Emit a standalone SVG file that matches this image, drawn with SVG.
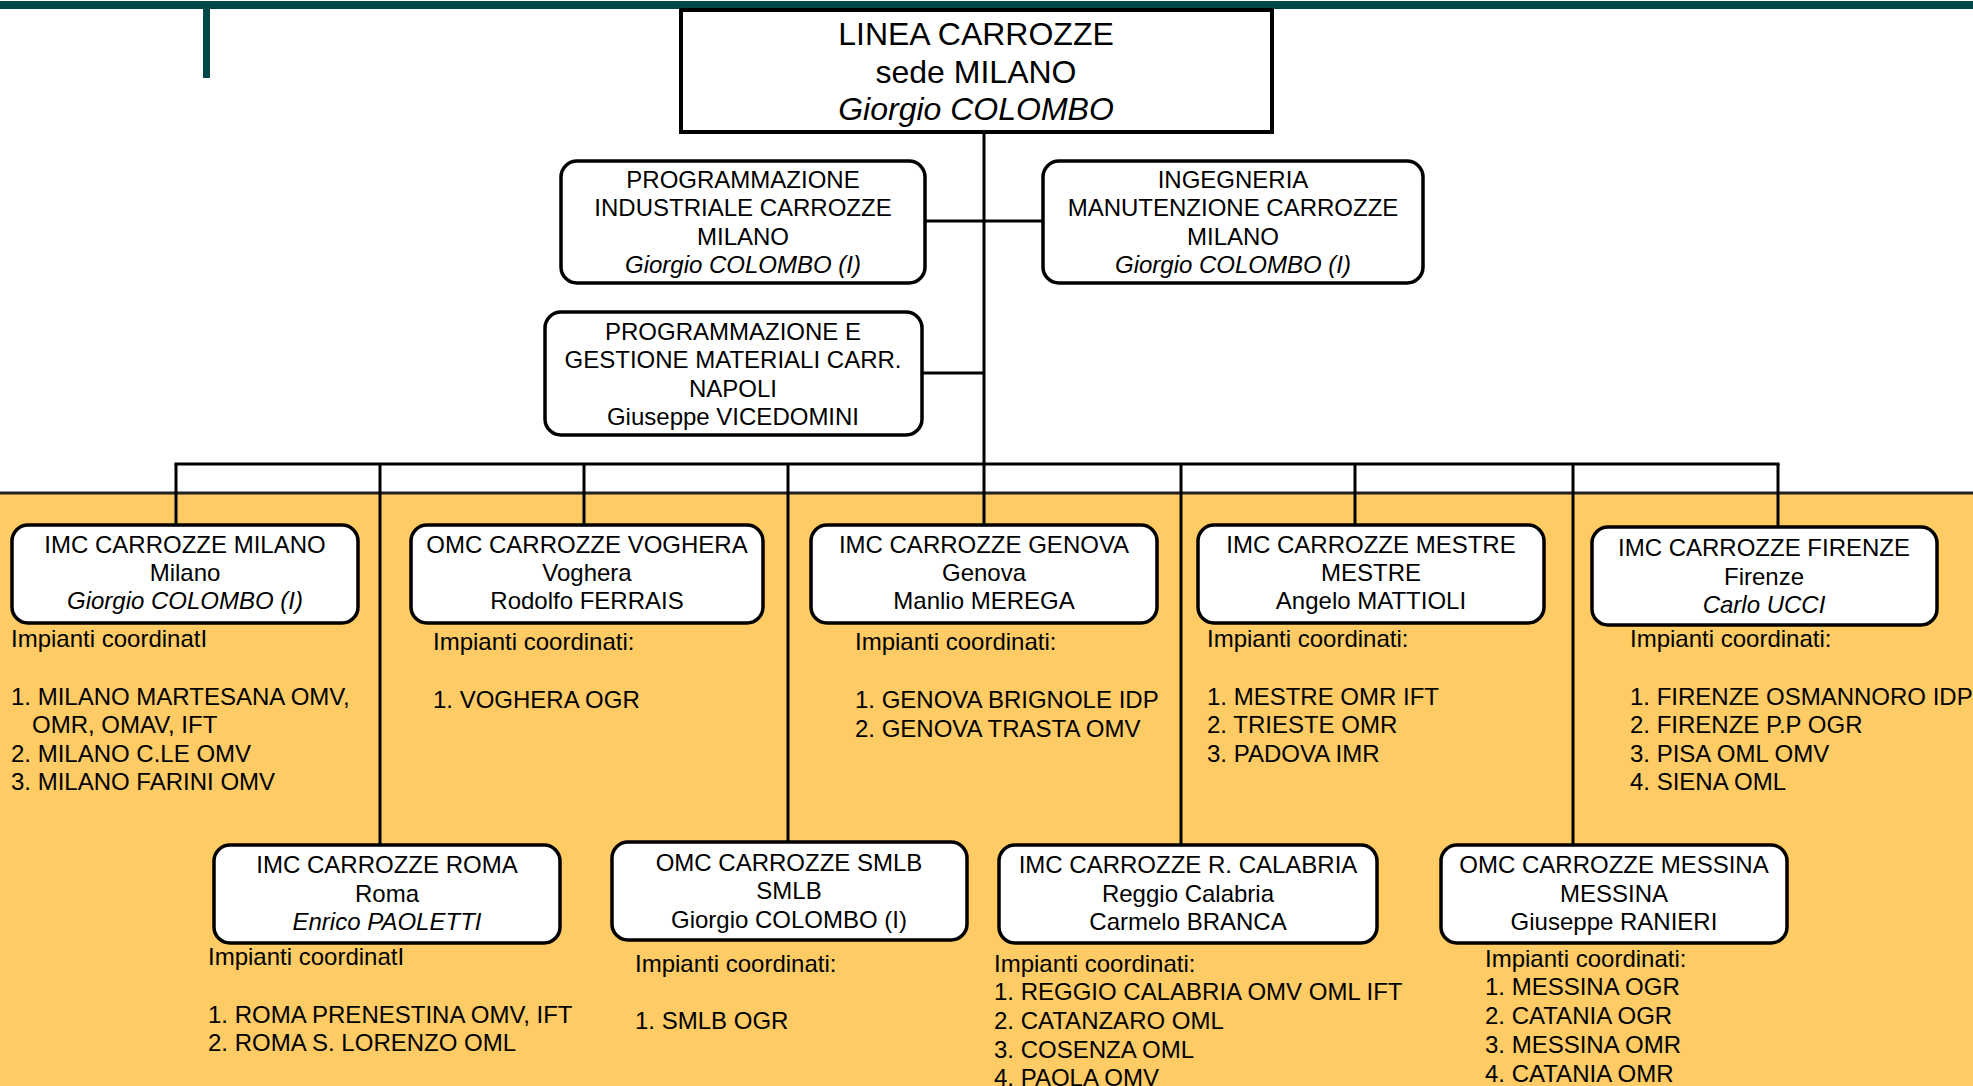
<svg xmlns="http://www.w3.org/2000/svg" width="1973" height="1086" viewBox="0 0 1973 1086">
<style>
text{font-family:"Liberation Sans",Arial,sans-serif;fill:#000}
.t{font-size:24px;text-anchor:middle}
.m{font-size:32px;text-anchor:middle}
.l{font-size:24px}
.i{font-style:italic}
.box{fill:#fff;stroke:#000;stroke-width:3.5}
.conn line{stroke:#000;stroke-width:3}
</style>
<rect x="0" y="0" width="1973" height="1086" fill="#fff"/>
<rect x="0" y="493" width="1973" height="593" fill="#FECB65"/>
<line x1="0" y1="493" x2="1973" y2="493" stroke="#222" stroke-width="3"/>
<rect x="0" y="1" width="1973" height="8" fill="#004848"/>
<rect x="203" y="8" width="7" height="70" fill="#004848"/>

<g id="connectors" class="conn">
<line x1="984" y1="132" x2="984" y2="525"/>
<line x1="925" y1="221" x2="1043" y2="221"/>
<line x1="922" y1="373" x2="984" y2="373"/>
<line x1="174.5" y1="464" x2="1779.5" y2="464"/>
<line x1="176" y1="464" x2="176" y2="525"/>
<line x1="380" y1="464" x2="380" y2="845"/>
<line x1="584" y1="464" x2="584" y2="525"/>
<line x1="788" y1="464" x2="788" y2="842"/>
<line x1="1181" y1="464" x2="1181" y2="845"/>
<line x1="1355" y1="464" x2="1355" y2="525"/>
<line x1="1573" y1="464" x2="1573" y2="845"/>
<line x1="1778" y1="464" x2="1778" y2="527"/>
</g>

<g id="linea-carrozze">
<rect x="681" y="10" width="591" height="122" fill="#fff" stroke="#000" stroke-width="4"/>
<text class="m" x="976" y="45">LINEA CARROZZE</text>
<text class="m" x="976" y="83">sede MILANO</text>
<text class="m i" x="976" y="120">Giorgio COLOMBO</text>
</g>

<g id="programmazione-industriale">
<rect class="box" x="561" y="161" width="364" height="122" rx="16"/>
<text class="t" x="743" y="188">PROGRAMMAZIONE</text>
<text class="t" x="743" y="216">INDUSTRIALE CARROZZE</text>
<text class="t" x="743" y="245">MILANO</text>
<text class="t i" x="743" y="273">Giorgio COLOMBO (I)</text>
</g>

<g id="ingegneria">
<rect class="box" x="1043" y="161" width="380" height="122" rx="16"/>
<text class="t" x="1233" y="188">INGEGNERIA</text>
<text class="t" x="1233" y="216">MANUTENZIONE CARROZZE</text>
<text class="t" x="1233" y="245">MILANO</text>
<text class="t i" x="1233" y="273">Giorgio COLOMBO (I)</text>
</g>

<g id="programmazione-gestione">
<rect class="box" x="545" y="312" width="377" height="123" rx="16"/>
<text class="t" x="733" y="340">PROGRAMMAZIONE E</text>
<text class="t" x="733" y="368">GESTIONE MATERIALI CARR.</text>
<text class="t" x="733" y="397">NAPOLI</text>
<text class="t" x="733" y="425">Giuseppe VICEDOMINI</text>
</g>

<g id="imc-milano">
<rect class="box" x="12" y="525" width="346" height="98" rx="16"/>
<text class="t" x="185" y="553">IMC CARROZZE MILANO</text>
<text class="t" x="185" y="581">Milano</text>
<text class="t i" x="185" y="609">Giorgio COLOMBO (I)</text>
<text class="l" x="11" y="647">Impianti coordinatI</text>
<text class="l" x="11" y="705">1. MILANO MARTESANA OMV,</text>
<text class="l" x="32" y="733">OMR, OMAV, IFT</text>
<text class="l" x="11" y="762">2. MILANO C.LE OMV</text>
<text class="l" x="11" y="790">3. MILANO FARINI OMV</text>
</g>

<g id="omc-voghera">
<rect class="box" x="411" y="525" width="352" height="98" rx="16"/>
<text class="t" x="587" y="553">OMC CARROZZE VOGHERA</text>
<text class="t" x="587" y="581">Voghera</text>
<text class="t" x="587" y="609">Rodolfo FERRAIS</text>
<text class="l" x="433" y="650">Impianti coordinati:</text>
<text class="l" x="433" y="708">1. VOGHERA OGR</text>
</g>

<g id="imc-genova">
<rect class="box" x="811" y="525" width="346" height="98" rx="16"/>
<text class="t" x="984" y="553">IMC CARROZZE GENOVA</text>
<text class="t" x="984" y="581">Genova</text>
<text class="t" x="984" y="609">Manlio MEREGA</text>
<text class="l" x="855" y="650">Impianti coordinati:</text>
<text class="l" x="855" y="708">1. GENOVA BRIGNOLE IDP</text>
<text class="l" x="855" y="737">2. GENOVA TRASTA OMV</text>
</g>

<g id="imc-mestre">
<rect class="box" x="1198" y="525" width="346" height="98" rx="16"/>
<text class="t" x="1371" y="553">IMC CARROZZE MESTRE</text>
<text class="t" x="1371" y="581">MESTRE</text>
<text class="t" x="1371" y="609">Angelo MATTIOLI</text>
<text class="l" x="1207" y="647">Impianti coordinati:</text>
<text class="l" x="1207" y="705">1. MESTRE OMR IFT</text>
<text class="l" x="1207" y="733">2. TRIESTE OMR</text>
<text class="l" x="1207" y="762">3. PADOVA IMR</text>
</g>

<g id="imc-firenze">
<rect class="box" x="1592" y="527" width="345" height="98" rx="16"/>
<text class="t" x="1764" y="556">IMC CARROZZE FIRENZE</text>
<text class="t" x="1764" y="585">Firenze</text>
<text class="t i" x="1764" y="613">Carlo UCCI</text>
<text class="l" x="1630" y="647">Impianti coordinati:</text>
<text class="l" x="1630" y="705">1. FIRENZE OSMANNORO IDP</text>
<text class="l" x="1630" y="733">2. FIRENZE P.P OGR</text>
<text class="l" x="1630" y="762">3. PISA OML OMV</text>
<text class="l" x="1630" y="790">4. SIENA OML</text>
</g>

<g id="imc-roma">
<rect class="box" x="214" y="845" width="346" height="98" rx="16"/>
<text class="t" x="387" y="873">IMC CARROZZE ROMA</text>
<text class="t" x="387" y="902">Roma</text>
<text class="t i" x="387" y="930">Enrico PAOLETTI</text>
<text class="l" x="208" y="965">Impianti coordinatI</text>
<text class="l" x="208" y="1023">1. ROMA PRENESTINA OMV, IFT</text>
<text class="l" x="208" y="1051">2. ROMA S. LORENZO OML</text>
</g>

<g id="omc-smlb">
<rect class="box" x="612" y="842" width="355" height="98" rx="16"/>
<text class="t" x="789" y="871">OMC CARROZZE SMLB</text>
<text class="t" x="789" y="899">SMLB</text>
<text class="t" x="789" y="928">Giorgio COLOMBO (I)</text>
<text class="l" x="635" y="972">Impianti coordinati:</text>
<text class="l" x="635" y="1029">1. SMLB OGR</text>
</g>

<g id="imc-rcalabria">
<rect class="box" x="999" y="845" width="378" height="98" rx="16"/>
<text class="t" x="1188" y="873">IMC CARROZZE R. CALABRIA</text>
<text class="t" x="1188" y="902">Reggio Calabria</text>
<text class="t" x="1188" y="930">Carmelo BRANCA</text>
<text class="l" x="994" y="972">Impianti coordinati:</text>
<text class="l" x="994" y="1000">1. REGGIO CALABRIA OMV OML IFT</text>
<text class="l" x="994" y="1029">2. CATANZARO OML</text>
<text class="l" x="994" y="1058">3. COSENZA OML</text>
<text class="l" x="994" y="1086">4. PAOLA OMV</text>
</g>

<g id="omc-messina">
<rect class="box" x="1441" y="845" width="346" height="98" rx="16"/>
<text class="t" x="1614" y="873">OMC CARROZZE MESSINA</text>
<text class="t" x="1614" y="902">MESSINA</text>
<text class="t" x="1614" y="930">Giuseppe RANIERI</text>
<text class="l" x="1485" y="967">Impianti coordinati:</text>
<text class="l" x="1485" y="995">1. MESSINA OGR</text>
<text class="l" x="1485" y="1024">2. CATANIA OGR</text>
<text class="l" x="1485" y="1053">3. MESSINA OMR</text>
<text class="l" x="1485" y="1082">4. CATANIA OMR</text>
</g>
</svg>
